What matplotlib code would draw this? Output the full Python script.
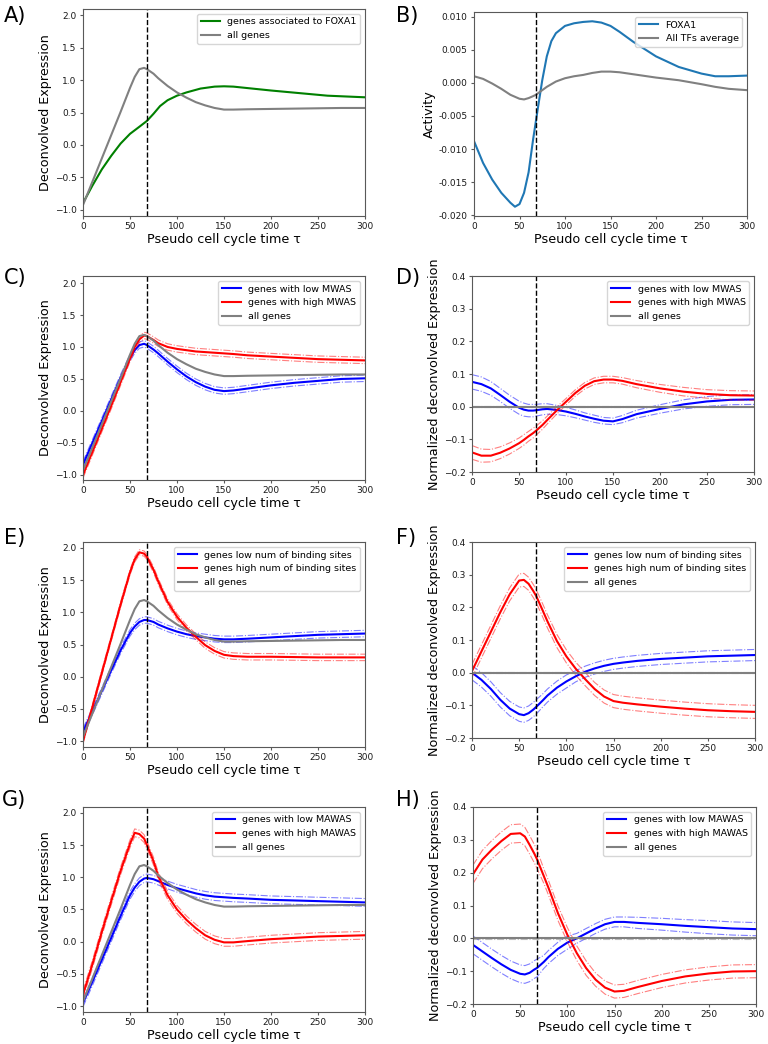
import matplotlib
matplotlib.use("Agg")
import matplotlib.pyplot as plt
import numpy as np

plt.rcParams['font.family'] = ['DejaVu Sans']
plt.rcParams['xtick.labelsize'] = 6.5
plt.rcParams['ytick.labelsize'] = 6.5
plt.rcParams['axes.labelsize'] = 9.2
plt.rcParams['legend.fontsize'] = 6.8
plt.rcParams['axes.edgecolor'] = '0.35'
plt.rcParams['xtick.color'] = '0.35'
plt.rcParams['ytick.color'] = '0.35'
plt.rcParams['xtick.labelcolor'] = '0.1'
plt.rcParams['ytick.labelcolor'] = '0.1'
plt.rcParams['xtick.major.size'] = 2.5
plt.rcParams['ytick.major.size'] = 2.5
plt.rcParams['xtick.major.pad'] = 2.0
plt.rcParams['ytick.major.pad'] = 2.0

# ---------------- data ----------------
VLINE = 68

# Panel A
xA = [0, 10, 20, 30, 40, 50, 60, 68, 75, 82, 90, 100, 110, 125, 140, 150, 160, 180, 200, 230, 260, 300]
foxa1_genes = [-0.90, -0.63, -0.38, -0.17, 0.02, 0.17, 0.28, 0.37, 0.48, 0.60, 0.69, 0.76, 0.81, 0.87, 0.90, 0.905,
               0.90, 0.87, 0.84, 0.80, 0.76, 0.735]

# common grid for all-genes curve and panels C-H
xg = [0, 10, 20, 30, 40, 50, 55, 60, 65, 68, 75, 80, 90, 100, 110, 120, 130, 140, 150, 160, 175, 200, 225, 250, 275, 300]
all_genes = [-0.93, -0.57, -0.21, 0.15, 0.51, 0.88, 1.05, 1.17, 1.19, 1.17, 1.10, 1.03, 0.91, 0.81, 0.73, 0.66,
             0.61, 0.57, 0.545, 0.545, 0.55, 0.555, 0.56, 0.565, 0.57, 0.57]

# Panel B
xB = [0, 10, 20, 30, 40, 45, 50, 55, 60, 65, 68, 70, 75, 80, 85, 90, 100, 110, 120, 130, 140, 150, 160, 175, 200,
      225, 250, 265, 280, 300]
foxa1_activity = [-0.0088, -0.0121, -0.0146, -0.0166, -0.0181, -0.0187, -0.0183, -0.0166, -0.0135, -0.0085, -0.0058,
                  -0.0040, 0.0004, 0.0040, 0.0063, 0.0075, 0.0086, 0.0090, 0.0092, 0.0093, 0.0091, 0.0086, 0.0077,
                  0.0062, 0.0040, 0.0024, 0.0014, 0.0010, 0.0010, 0.0011]
all_tfs_activity = [0.0010, 0.0006, -0.0001, -0.0009, -0.0018, -0.0021, -0.0024, -0.0025, -0.0023, -0.0020, -0.0018,
                    -0.0016, -0.0011, -0.0006, -0.0002, 0.0002, 0.0007, 0.0010, 0.0012, 0.0015, 0.0017, 0.0017,
                    0.0016, 0.0013, 0.0008, 0.0004, -0.0002, -0.0006, -0.0009, -0.0011]

# Panel C (MWAS)
c_low = [-0.84, -0.50, -0.16, 0.18, 0.52, 0.83, 0.95, 1.03, 1.05, 1.03, 0.96, 0.90, 0.77, 0.65, 0.54, 0.45, 0.38,
         0.33, 0.31, 0.32, 0.35, 0.40, 0.44, 0.47, 0.50, 0.51]
c_low_err = [0.05] * 26
c_high = [-1.00, -0.64, -0.28, 0.08, 0.45, 0.82, 1.00, 1.12, 1.18, 1.17, 1.11, 1.06, 1.00, 0.97, 0.95, 0.93, 0.92,
          0.91, 0.90, 0.89, 0.87, 0.85, 0.83, 0.81, 0.80, 0.79]
c_high_err = [0.05] * 26

# Panel D (normalized MWAS)
d_low = [0.076, 0.069, 0.056, 0.036, 0.015, -0.003, -0.009, -0.012, -0.012, -0.011, -0.008, -0.007, -0.010, -0.015,
         -0.022, -0.030, -0.037, -0.043, -0.045, -0.038, -0.023, -0.007, 0.007, 0.016, 0.021, 0.022]
d_low_err = [0.022, 0.022, 0.021, 0.020, 0.020, 0.020, 0.020, 0.019, 0.019, 0.018, 0.017, 0.016, 0.014, 0.013,
             0.012, 0.011, 0.011, 0.010, 0.010, 0.011, 0.012, 0.013, 0.014, 0.015, 0.015, 0.015]
d_high = [-0.140, -0.150, -0.150, -0.141, -0.128, -0.112, -0.102, -0.091, -0.081, -0.074, -0.056, -0.041, -0.012,
          0.015, 0.042, 0.064, 0.078, 0.083, 0.083, 0.079, 0.069, 0.056, 0.046, 0.039, 0.035, 0.034]
d_high_err = [0.021, 0.020, 0.019, 0.018, 0.017, 0.016, 0.016, 0.015, 0.015, 0.014, 0.013, 0.012, 0.011, 0.010,
              0.010, 0.010, 0.010, 0.010, 0.010, 0.010, 0.011, 0.012, 0.013, 0.013, 0.014, 0.014]

# Panel E (binding sites)
e_low = [-0.85, -0.54, -0.22, 0.10, 0.41, 0.68, 0.78, 0.85, 0.88, 0.88, 0.85, 0.81, 0.75, 0.70, 0.66, 0.63, 0.61,
         0.59, 0.58, 0.58, 0.59, 0.61, 0.63, 0.65, 0.66, 0.67]
e_low_err = [0.05] * 26
e_high = [-1.00, -0.47, 0.06, 0.59, 1.12, 1.62, 1.82, 1.93, 1.91, 1.86, 1.66, 1.48, 1.16, 0.93, 0.76, 0.62, 0.49,
          0.40, 0.34, 0.32, 0.31, 0.31, 0.305, 0.30, 0.30, 0.30]
e_high_err = [0.04] * 10 + [0.045] * 6 + [0.05] * 10

# Panel F (normalized binding sites)
f_low = [0.000, -0.022, -0.050, -0.083, -0.110, -0.127, -0.130, -0.124, -0.113, -0.105, -0.085, -0.070, -0.046,
         -0.027, -0.011, 0.003, 0.013, 0.021, 0.027, 0.031, 0.036, 0.042, 0.046, 0.050, 0.052, 0.054]
f_low_err = [0.022] * 10 + [0.02] * 4 + [0.017] * 12
f_high = [0.005, 0.065, 0.125, 0.185, 0.240, 0.282, 0.284, 0.272, 0.250, 0.235, 0.190, 0.157, 0.097, 0.050, 0.012,
          -0.020, -0.050, -0.073, -0.087, -0.092, -0.097, -0.104, -0.110, -0.115, -0.118, -0.120]
f_high_err = [0.02] * 26

# Panel G (MAWAS)
g_low = [-0.95, -0.62, -0.28, 0.06, 0.40, 0.72, 0.84, 0.93, 0.98, 0.99, 0.97, 0.94, 0.88, 0.83, 0.79, 0.75, 0.72,
         0.70, 0.69, 0.68, 0.67, 0.65, 0.64, 0.63, 0.62, 0.61]
g_low_err = [0.06] * 26
g_high = [-0.82, -0.35, 0.15, 0.63, 1.10, 1.52, 1.69, 1.67, 1.60, 1.50, 1.25, 1.02, 0.72, 0.50, 0.34, 0.21, 0.10,
          0.03, -0.01, -0.01, 0.01, 0.04, 0.06, 0.08, 0.09, 0.10]
g_high_err = [0.06] * 26

# Panel H (normalized MAWAS)
h_low = [-0.020, -0.040, -0.060, -0.079, -0.096, -0.108, -0.110, -0.105, -0.095, -0.090, -0.072, -0.057, -0.032,
         -0.013, 0.000, 0.015, 0.030, 0.043, 0.050, 0.050, 0.047, 0.043, 0.038, 0.034, 0.030, 0.028]
h_low_err = [0.027] * 10 + [0.02] * 4 + [0.015] * 6 + [0.017, 0.018, 0.019, 0.02, 0.02, 0.02]
h_high = [0.195, 0.240, 0.270, 0.296, 0.318, 0.320, 0.310, 0.285, 0.258, 0.240, 0.190, 0.154, 0.077, 0.011,
          -0.045, -0.091, -0.126, -0.150, -0.162, -0.160, -0.148, -0.130, -0.116, -0.107, -0.101, -0.100]
h_high_err = [0.028] * 10 + [0.022] * 6 + [0.02] * 10

zero_line = [0.0] * 26
zero_err = [0.0015] * 26

# ---------------- layout ----------------
W, H = 768, 1044
fig = plt.figure(figsize=(W / 100, H / 100), dpi=100)


def add_ax(x0, x1, y0, y1):
    return fig.add_axes([x0 / W, 1 - y1 / H, (x1 - x0) / W, (y1 - y0) / H])


XLABEL = 'Pseudo cell cycle time τ'
XPAD = 1
YPAD = 2


def band(ax, x, y, e, color):
    y = np.asarray(y)
    e = np.asarray(e)
    ax.plot(x, y + e, color=color, lw=0.8, ls='-.', alpha=0.5)
    ax.plot(x, y - e, color=color, lw=0.8, ls='-.', alpha=0.5)


def expr_panel(ax, series, labels):
    for (y, e, c), lab in zip(series, labels):
        if e is not None:
            band(ax, xg, y, e, c)
        ax.plot(xg, y, color=c, lw=1.5, label=lab)
    ax.set_xlim(0, 300)
    ax.axvline(VLINE, color='black', ls='--', lw=1)
    ax.set_xlabel(XLABEL, labelpad=XPAD)
    ax.set_xticks([0, 50, 100, 150, 200, 250, 300])
    ax.legend(loc='upper right')


# A
axA = add_ax(83, 365, 9, 216)
axA.plot(xA, foxa1_genes, color='green', lw=1.5, label='genes associated to FOXA1')
axA.plot(xg, all_genes, color='grey', lw=1.5, label='all genes')
axA.axvline(VLINE, color='black', ls='--', lw=1)
axA.set_xlim(0, 300)
axA.set_ylim(-1.1, 2.1)
axA.set_xticks([0, 50, 100, 150, 200, 250, 300])
axA.set_yticks(np.arange(-1.0, 2.01, 0.5))
axA.set_xlabel(XLABEL, labelpad=XPAD)
axA.set_ylabel('Deconvolved Expression', labelpad=YPAD)
axA.legend(loc='upper right')

# B
axB = add_ax(474, 747, 12, 216)
axB.plot(xB, foxa1_activity, color='#1f77b4', lw=1.5, label='FOXA1')
axB.plot(xB, all_tfs_activity, color='grey', lw=1.5, label='All TFs average')
axB.axvline(VLINE, color='black', ls='--', lw=1)
axB.set_xlim(0, 300)
axB.set_ylim(-0.0201, 0.0107)
axB.set_xticks([0, 50, 100, 150, 200, 250, 300])
axB.set_yticks([-0.020, -0.015, -0.010, -0.005, 0.0, 0.005, 0.010])
axB.yaxis.set_major_formatter(matplotlib.ticker.FormatStrFormatter('%.3f'))
axB.set_xlabel(XLABEL, labelpad=XPAD)
axB.set_ylabel('Activity', labelpad=YPAD)
axB.legend(loc='upper right')

# C
axC = add_ax(83, 365, 276, 480)
expr_panel(axC, [(c_low, c_low_err, 'blue'), (c_high, c_high_err, 'red'), (all_genes, None, 'grey')],
           ['genes with low MWAS', 'genes with high MWAS', 'all genes'])
axC.set_ylim(-1.08, 2.11)
axC.set_yticks(np.arange(-1.0, 2.01, 0.5))
axC.set_ylabel('Deconvolved Expression', labelpad=YPAD)

# D
axD = add_ax(472, 754, 276, 472)
expr_panel(axD, [(d_low, d_low_err, 'blue'), (d_high, d_high_err, 'red'), (zero_line, zero_err, 'grey')],
           ['genes with low MWAS', 'genes with high MWAS', 'all genes'])
axD.set_ylim(-0.2, 0.4)
axD.set_ylabel('Normalized deconvolved Expression', labelpad=YPAD)

# E
axE = add_ax(83, 365, 542, 747)
expr_panel(axE, [(e_low, e_low_err, 'blue'), (e_high, e_high_err, 'red'), (all_genes, None, 'grey')],
           ['genes low num of binding sites', 'genes high num of binding sites', 'all genes'])
axE.set_ylim(-1.09, 2.09)
axE.set_yticks(np.arange(-1.0, 2.01, 0.5))
axE.set_ylabel('Deconvolved Expression', labelpad=YPAD)

# F
axF = add_ax(472, 755, 542, 738)
expr_panel(axF, [(f_low, f_low_err, 'blue'), (f_high, f_high_err, 'red'), (zero_line, zero_err, 'grey')],
           ['genes low num of binding sites', 'genes high num of binding sites', 'all genes'])
axF.set_ylim(-0.2, 0.4)
axF.set_ylabel('Normalized deconvolved Expression', labelpad=YPAD)

# G
axG = add_ax(83, 365, 807, 1012)
expr_panel(axG, [(g_low, g_low_err, 'blue'), (g_high, g_high_err, 'red'), (all_genes, None, 'grey')],
           ['genes with low MAWAS', 'genes with high MAWAS', 'all genes'])
axG.set_ylim(-1.09, 2.09)
axG.set_yticks(np.arange(-1.0, 2.01, 0.5))
axG.set_ylabel('Deconvolved Expression', labelpad=YPAD)

# H
axH = add_ax(473, 756, 807, 1004)
expr_panel(axH, [(h_low, h_low_err, 'blue'), (h_high, h_high_err, 'red'), (zero_line, zero_err, 'grey')],
           ['genes with low MAWAS', 'genes with high MAWAS', 'all genes'])
axH.set_ylim(-0.2, 0.4)
axH.set_ylabel('Normalized deconvolved Expression', labelpad=YPAD)

# panel letters
letters = [('A)', 4, 6), ('B)', 396, 6), ('C)', 4, 268), ('D)', 396, 268),
           ('E)', 4, 528), ('F)', 396, 528), ('G)', 2, 790), ('H)', 396, 790)]
for t, px, py in letters:
    fig.text(px / W, 1 - py / H, t, fontsize=15, va='top', ha='left')

fig.savefig('out.png', dpi=100)
